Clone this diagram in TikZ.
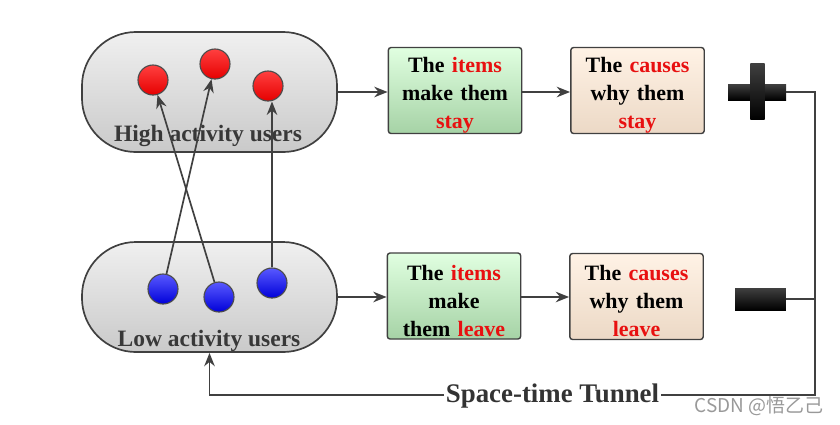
\documentclass[tikz,border=0pt]{standalone}
\usepackage{fontspec}
\setmainfont{Liberation Serif}
\newfontfamily\cjkfont{Noto Sans CJK SC}
\usetikzlibrary{arrows.meta}
\definecolor{linegray}{HTML}{404040}
\definecolor{hotred}{HTML}{E81010}
\tikzset{
  capsule/.style={draw=linegray, line width=1.2pt, rounded corners=1.35cm,
    top color=gray!12, bottom color=gray!42, minimum width=6.375cm},
  capsulelabel/.style={font=\fontsize{16.7}{20}\selectfont\bfseries, text=black!78},
  reddot/.style={circle, draw=black!70, line width=0.8pt, inner sep=0pt,
    minimum size=0.75cm, top color=red!75, bottom color=red!90!black},
  bluedot/.style={circle, draw=black!70, line width=0.8pt, inner sep=0pt,
    minimum size=0.75cm, top color=blue!65, bottom color=blue!85!black},
  stepbox/.style={draw=linegray, line width=1pt, rounded corners=2pt,
    minimum width=3.25cm, minimum height=2.15cm, text width=3.1cm, align=center,
    inner ysep=0pt, font=\fontsize{15.6}{19.8}\selectfont\bfseries,
    execute at begin node={\rule{0pt}{17.5pt}}},
  itembox/.style={stepbox, top color=green!12, bottom color=green!50!black!35},
  causebox/.style={stepbox, top color=orange!10, bottom color=brown!30},
  signbar/.style={inner sep=0pt, top color=black!75, bottom color=black},
  link/.style={draw=linegray, line width=1.2pt},
  arrow/.style={link, -{Stealth[length=9.5pt, width=7.5pt]}},
}
\newcommand{\hot}[1]{\textcolor{hotred}{#1}}

\begin{document}
\begin{tikzpicture}[x=0.025cm, y=-0.025cm]
  \useasboundingbox (0,0) rectangle (840,424);

  % user groups
  \node[capsule, minimum height=3cm] (high) at (209.5,92) {};
  \node[capsule, minimum height=2.75cm] (low) at (209.5,297) {};
  \node[capsulelabel] (highlabel) at (208,136) {High activity users};
  \node[capsulelabel] (lowlabel) at (209,341) {Low activity users};

  \node[reddot] (r1) at (153,80) {};
  \node[reddot] (r2) at (215,64) {};
  \node[reddot] (r3) at (268,86) {};
  \node[bluedot] (b1) at (163,289) {};
  \node[bluedot] (b2) at (219,297) {};
  \node[bluedot] (b3) at (272,283) {};

  \draw[arrow] (b1) -- (r2);
  \draw[arrow] (b2) -- (r1);
  \draw[arrow] (b3.north) -- (b3.north |- r3.south);

  % reasons
  \node[itembox] (stayitems) at (455,90.5) {The \hot{items}\\make them\\\hot{stay}};
  \node[causebox] (staycauses) at (637.5,90.5) {The \hot{causes}\\why them\\\hot{stay}};
  \node[itembox] (leaveitems) at (454,296) {The \hot{items}\\make\\them \hot{leave}};
  \node[causebox] (leavecauses) at (636.5,296.5) {The \hot{causes}\\why them\\\hot{leave}};

  \draw[arrow] (high.east) -- (high.east -| stayitems.west);
  \draw[arrow] (stayitems.east |- high.east) -- (staycauses.west |- high.east);
  \draw[arrow] (low.east) -- (low.east -| leaveitems.west);
  \draw[arrow] (leaveitems.east |- low.east) -- (leavecauses.west |- low.east);

  % signs
  \node[signbar, minimum width=1.45cm, minimum height=0.4cm] (plus) at (757,92) {};
  \node[signbar, minimum width=0.36cm, minimum height=1.42cm] (plusbar) at (757.5,91.5) {};
  \node[signbar, minimum width=1.27cm, minimum height=0.55cm] (minus) at (760.5,299) {};

  % tunnel back to the low group
  \node[font=\fontsize{19.1}{22}\selectfont\bfseries, text=black!80, inner sep=1pt]
    (tunnel) at (552.5,396) {Space-time Tunnel};
  \coordinate (corner) at (815,395);
  \draw[link] (plus.east) -| (corner) -- (tunnel.east |- corner);
  \draw[link] (minus.east) -- (minus.east -| corner);
  \draw[arrow] (tunnel.west |- corner) -| (low.south);

  \node[font=\cjkfont\fontsize{13.5}{16}\selectfont, text=black!40, inner sep=0pt]
    (mark) at (759,406) {CSDN @悟乙己};
\end{tikzpicture}
\end{document}
